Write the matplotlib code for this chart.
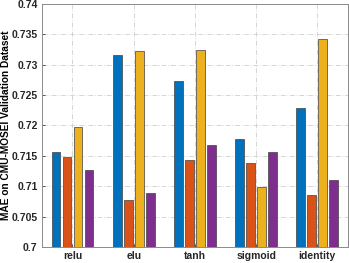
import matplotlib
matplotlib.use("Agg")
import matplotlib.pyplot as plt
import numpy as np

plt.rcParams['font.family'] = ['Liberation Sans', 'DejaVu Sans']

# activation functions and the four series (MAE values)
acts = ["relu", "elu", "tanh", "sigmoid", "identity"]
s1 = [0.7156, 0.7316, 0.7273, 0.7178, 0.7229]
s2 = [0.7148, 0.7077, 0.7143, 0.7138, 0.7085]
s3 = [0.7198, 0.7322, 0.7325, 0.7098, 0.7342]
s4 = [0.7126, 0.7089, 0.7168, 0.7156, 0.7110]
colors = ["#0072BD", "#D95319", "#EDB120", "#7E2F8E"]

fig = plt.figure(figsize=(3.49, 2.63), dpi=100)
ax = fig.add_axes([0.12, 0.061, 0.877, 0.924])

x = np.arange(1, len(acts) + 1)
offs = [-0.27, -0.09, 0.09, 0.27]
for o, s, c in zip(offs, [s1, s2, s3, s4], colors):
    ax.bar(x + o, s, width=0.145, color=c, edgecolor="#404040",
           linewidth=0.5, zorder=3)

ax.set_ylim(0.7, 0.74)
ax.set_xlim(0.5, 5.5)
ax.set_xticks(x)
ax.set_xticklabels(acts)
ax.set_yticks(np.arange(0.7, 0.7401, 0.005))
ax.set_yticklabels(["0.7", "0.705", "0.71", "0.715", "0.72", "0.725",
                    "0.73", "0.735", "0.74"])
ax.grid(True, linestyle=(0, (6, 2, 1, 2)), color="#d0d0d0", linewidth=0.6, zorder=0)
ax.tick_params(direction="in", length=2.5, width=0.5, colors="#262626",
               labelsize=7.5, pad=3)
for lbl in ax.get_xticklabels() + ax.get_yticklabels():
    lbl.set_fontweight("bold")
for sp in ax.spines.values():
    sp.set_color("#8a8a8a")
    sp.set_linewidth(0.7)
ax.set_ylabel("MAE on CMU-MOSEI Validation Dataset", fontsize=7.3,
              fontweight="bold")
ax.yaxis.set_label_coords(-0.102, 0.5)

fig.savefig("out.png", dpi=100)
